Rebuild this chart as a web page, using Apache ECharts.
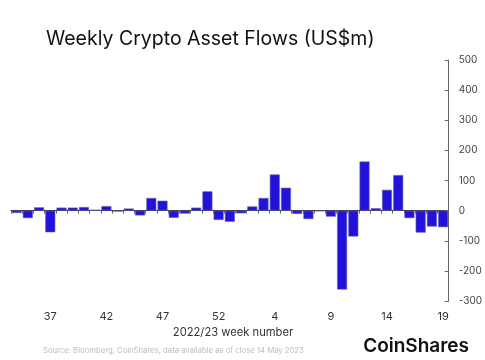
<!DOCTYPE html>
<html>
<head>
<meta charset="utf-8">
<script src="https://cdn.jsdelivr.net/npm/echarts@6/dist/echarts.min.js"></script>
<style>html,body{margin:0;padding:0;background:#fff}#c{width:485px;height:360px}</style>
</head>
<body>
<div id="c"></div>
<script>
const weeks = ['34','35','36','37','38','39','40','41','42','43','44','45','46','47','48','49','50','51','52','53',
  '1','2','3','4','5','6','7','8','9','10','11','12','13','14','15','16','17','18','19'];
const flows = [-8,-25,11,-72,10,10,12,3,15,-3,7,-16,42,33,-24,-10,10,64,-31,-37,
  -9,14,42,120,76,-11,-28,-2,-20,-262,-86,163,8,69,118,-25,-73,-53,-55];
const yTicks = {min: -300, max: 500, interval: 100};
const titleText = 'Weekly Crypto Asset Flows (US$m)';
const xName = '2022/23 week number';
const sourceText = 'Source: Bloomberg, CoinShares, data available as of close 14 May 2023';
const brand = 'CoinShares';

const FONT = 'Inter, "Liberation Sans", sans-serif';
const chart = echarts.init(document.getElementById('c'), null, {renderer: 'canvas'});
chart.setOption({
  animation: false,
  textStyle: {fontFamily: FONT},
  grid: {left: 11, right: 30, top: 60, bottom: 59},
  title: {
    text: titleText, left: 41, top: 24,
    textStyle: {fontFamily: FONT, fontSize: 19.5, fontWeight: 'normal', color: '#111'}
  },
  xAxis: [{
    type: 'category', data: weeks,
    axisLine: {onZero: true, lineStyle: {color: '#333', width: 1}},
    axisTick: {show: true, interval: 0, length: 3, lineStyle: {color: '#666'}},
    axisLabel: {show: false}
  }, {
    type: 'category', data: weeks, position: 'bottom',
    axisLine: {show: false, onZero: false},
    axisTick: {show: false},
    axisLabel: {
      interval: function (i) { return (i - 3) % 5 === 0; },
      color: '#333', fontSize: 11, margin: 10, fontFamily: FONT
    }
  }],
  yAxis: {
    type: 'value', position: 'right',
    min: yTicks.min, max: yTicks.max, interval: yTicks.interval,
    axisLine: {show: true, lineStyle: {color: '#666'}},
    axisTick: {show: true, inside: true, length: 4, lineStyle: {color: '#666'}},
    axisLabel: {color: '#444', fontSize: 10, margin: 10, fontFamily: FONT},
    splitLine: {show: false}
  },
  series: [{
    type: 'bar', data: flows, xAxisIndex: 0,
    barWidth: 10,
    itemStyle: {color: '#2212dc', borderColor: '#6a66a8', borderWidth: 0.6}
  }],
  graphic: [
    {type: 'text', style: {text: xName, x: 233, y: 333, fontSize: 11.2, fill: '#333', fontFamily: FONT, textAlign: 'center', textVerticalAlign: 'middle'}},
    {type: 'text', style: {text: sourceText, x: 43, y: 351, fontSize: 7.7, fill: '#bbb', fontFamily: FONT, textAlign: 'left', textVerticalAlign: 'middle'}},
    {type: 'text', style: {text: brand, x: 469, y: 346, fontSize: 19, fontWeight: 600, fill: '#111', fontFamily: FONT, textAlign: 'right', textVerticalAlign: 'middle'}}
  ]
});
</script>
</body>
</html>
